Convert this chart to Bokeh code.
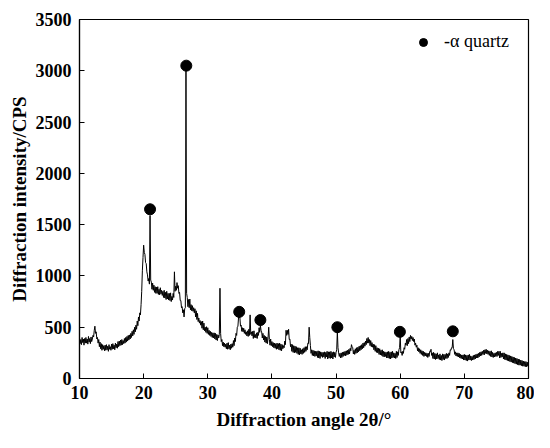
from bokeh.plotting import figure
from bokeh.models import FixedTicker, Range1d
from bokeh.embed import file_html
from bokeh.resources import INLINE

# ---- data ----
angle_start = 10.0
angle_step = 0.1
intensity = [
    395, 340, 380, 330, 400, 350, 385, 325, 390, 345,   # 10
    400, 345, 385, 335, 410, 355, 390, 340, 405, 360,   # 11
    385, 420, 405, 470, 510, 440, 455, 385, 400, 345,   # 12
    380, 310, 355, 290, 340, 275, 330, 285, 320, 270,   # 13
    325, 275, 330, 280, 315, 265, 330, 285, 310, 275,   # 14
    335, 285, 340, 290, 325, 280, 345, 300, 335, 295,   # 15
    360, 310, 365, 320, 375, 325, 380, 330, 370, 340,   # 16
    390, 345, 400, 355, 410, 365, 420, 375, 425, 385,   # 17
    440, 400, 460, 415, 475, 430, 500, 455, 520, 480,   # 18
    560, 515, 600, 560, 640, 620, 720, 850, 1050, 1180, # 19
    1300, 1230, 1210, 1130, 1120, 1040, 1010, 950, 975, 920,  # 20
    1590, 960, 940, 870, 930, 860, 910, 840, 895, 830,  # 21
    890, 830, 895, 820, 870, 815, 885, 825, 860, 810,   # 22
    850, 790, 860, 785, 840, 770, 850, 775, 830, 765,   # 23
    830, 760, 835, 750, 800, 765, 830, 790, 1040, 850,  # 24
    900, 860, 935, 880, 905, 830, 840, 760, 760, 690,   # 25
    700, 640, 670, 600, 680, 690, 3000, 830, 790, 700,  # 26
    770, 690, 775, 670, 720, 660, 710, 655, 690, 640,   # 27
    680, 600, 660, 575, 635, 555, 590, 540, 565, 520,   # 28
    555, 490, 560, 475, 540, 465, 500, 450, 505, 440,   # 29
    495, 430, 470, 420, 460, 410, 450, 400, 445, 395,   # 30
    445, 385, 440, 375, 430, 370, 425, 395, 430, 880,   # 31
    440, 360, 380, 320, 355, 310, 345, 305, 335, 290,   # 32
    345, 285, 350, 290, 325, 280, 335, 295, 340, 305,   # 33
    370, 320, 395, 360, 440, 420, 500, 510, 600, 590,   # 34
    600, 510, 520, 460, 495, 455, 490, 440, 475, 430,   # 35
    455, 415, 465, 410, 480, 420, 620, 430, 455, 415,   # 36
    460, 390, 465, 400, 430, 395, 445, 390, 450, 420,   # 37
    495, 450, 520, 470, 455, 395, 440, 375, 420, 355,   # 38
    410, 345, 405, 340, 400, 500, 380, 325, 385, 320,   # 39
    360, 310, 350, 300, 345, 295, 340, 285, 345, 290,   # 40
    340, 280, 345, 275, 335, 270, 330, 290, 320, 300,   # 41
    365, 330, 470, 420, 470, 430, 480, 380, 385, 310,   # 42
    335, 265, 330, 255, 320, 250, 315, 255, 310, 245,   # 43
    300, 235, 300, 230, 295, 240, 280, 235, 290, 245,   # 44
    300, 255, 310, 265, 310, 280, 345, 340, 500, 400,   # 45
    320, 245, 280, 225, 275, 220, 270, 215, 265, 220,   # 46
    265, 205, 270, 200, 265, 195, 260, 215, 255, 205,   # 47
    255, 210, 260, 195, 255, 210, 265, 190, 260, 200,   # 48
    260, 195, 265, 200, 255, 190, 260, 210, 255, 205,   # 49
    255, 280, 460, 300, 250, 215, 245, 200, 250, 205,   # 50
    255, 215, 260, 225, 265, 220, 270, 230, 275, 235,   # 51
    285, 240, 295, 270, 330, 310, 300, 240, 275, 235,   # 52
    290, 245, 300, 250, 305, 260, 315, 270, 320, 280,   # 53
    330, 290, 345, 300, 350, 315, 365, 330, 390, 345,   # 54
    400, 345, 380, 320, 370, 310, 350, 305, 335, 280,   # 55
    330, 265, 320, 255, 300, 250, 295, 235, 290, 230,   # 56
    275, 225, 280, 215, 265, 210, 260, 215, 255, 200,   # 57
    260, 200, 265, 195, 255, 190, 260, 200, 265, 205,   # 58
    250, 200, 245, 195, 265, 205, 260, 225, 280, 300,   # 59
    415, 250, 260, 225, 265, 245, 300, 285, 345, 325,   # 60
    380, 320, 390, 340, 405, 360, 420, 385, 410, 370,   # 61
    400, 360, 385, 325, 345, 305, 325, 270, 300, 260,   # 62
    290, 245, 280, 235, 270, 225, 265, 215, 255, 220,   # 63
    250, 215, 245, 205, 245, 215, 265, 260, 285, 225,   # 64
    250, 195, 255, 190, 245, 185, 240, 190, 250, 195,   # 65
    230, 185, 240, 180, 225, 175, 240, 185, 235, 180,   # 66
    235, 195, 245, 195, 240, 205, 250, 225, 280, 275,   # 67
    300, 300, 380, 290, 280, 235, 260, 220, 250, 215,   # 68
    250, 210, 245, 200, 235, 195, 230, 190, 230, 180,   # 69
    235, 180, 230, 175, 225, 170, 230, 180, 235, 180,   # 70
    220, 175, 215, 180, 225, 185, 230, 190, 235, 200,   # 71
    240, 200, 245, 210, 255, 220, 260, 225, 265, 235,   # 72
    275, 230, 280, 245, 285, 240, 275, 235, 270, 225,   # 73
    265, 215, 270, 210, 255, 205, 245, 210, 250, 215,   # 74
    255, 215, 265, 225, 265, 200, 265, 205, 245, 210,   # 75
    250, 190, 250, 185, 240, 180, 235, 175, 230, 170,   # 76
    225, 165, 220, 160, 215, 155, 210, 150, 205, 145,   # 77
    200, 140, 195, 135, 190, 130, 185, 130, 180, 125,   # 78
    175, 120, 170, 120, 165, 115, 165, 115, 160, 120,   # 79
    150,                                                # 80
]
assert len(intensity) == 701, len(intensity)
angle = [round(angle_start + angle_step * i, 2) for i in range(len(intensity))]

quartz_angle = [21.0, 26.65, 34.9, 38.2, 50.2, 59.95, 68.2]
quartz_marker = [1650, 3050, 650, 570, 500, 455, 460]
quartz_label = "-α quartz"

x_ticks = [10, 20, 30, 40, 50, 60, 70, 80]
y_ticks = [0, 500, 1000, 1500, 2000, 2500, 3000, 3500]
x_title = "Diffraction angle 2θ/°"
y_title = "Diffraction intensity/CPS"

SERIF = "Liberation Serif"

p = figure(width=534, height=432, output_backend="svg", toolbar_location=None,
           x_range=Range1d(10, 80), y_range=Range1d(0, 3500))
p.min_border_left = 79
p.min_border_right = 6
p.min_border_top = 19
p.min_border_bottom = 51
p.background_fill_color = "white"
p.border_fill_color = "white"
p.outline_line_color = "black"
p.outline_line_width = 1.2
p.xgrid.visible = False
p.ygrid.visible = False

p.line(angle, intensity, line_color="black", line_width=1.0)
p.scatter(quartz_angle, quartz_marker, marker="circle", size=11,
          fill_color="black", line_color="black", legend_label=quartz_label)

for ax, ticks, title in ((p.xaxis[0], x_ticks, x_title), (p.yaxis[0], y_ticks, y_title)):
    ax.ticker = FixedTicker(ticks=ticks, num_minor_ticks=2)
    ax.axis_label = title
    ax.axis_label_text_font = SERIF
    ax.axis_label_text_font_style = "bold"
    ax.axis_label_text_font_size = "19px"
    ax.axis_label_text_color = "black"
    ax.major_label_text_font = SERIF
    ax.major_label_text_font_style = "bold"
    ax.major_label_text_font_size = "18px"
    ax.major_label_text_color = "black"
    ax.axis_line_color = "black"
    ax.axis_line_width = 1.2
    ax.major_tick_in = 5
    ax.major_tick_out = 0
    ax.minor_tick_in = 3
    ax.minor_tick_out = 0
    ax.major_tick_line_color = "black"
    ax.minor_tick_line_color = "black"

p.xaxis.major_label_standoff = 7
p.xaxis.axis_label_standoff = 7
p.yaxis.major_label_standoff = 8
p.yaxis.axis_label_standoff = 3

leg = p.legend[0]
leg.location = "top_right"
leg.border_line_color = None
leg.background_fill_alpha = 0
leg.label_text_font = SERIF
leg.label_text_font_size = "18px"
leg.label_text_color = "black"
leg.glyph_width = 20
leg.label_standoff = 11
leg.label_width = 72
leg.margin = 12
leg.padding = 8

open("out.html", "w").write(file_html(p, INLINE))
